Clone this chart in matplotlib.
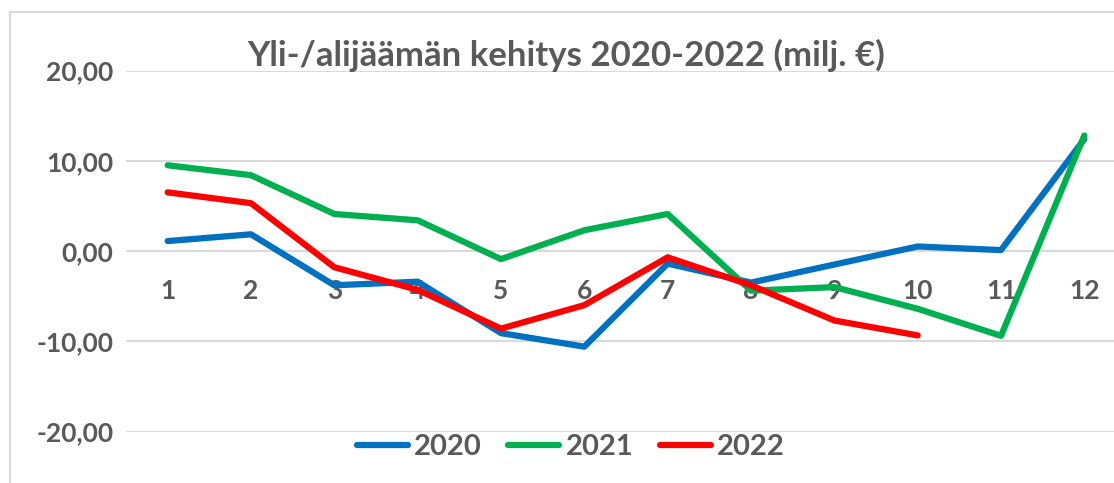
import matplotlib
matplotlib.use("Agg")
import matplotlib.pyplot as plt
from matplotlib.patches import Rectangle

# data (milj. €)
months = [1, 2, 3, 4, 5, 6, 7, 8, 9, 10, 11, 12]
y2020 = [1.1, 1.85, -3.8, -3.4, -9.1, -10.6, -1.4, -3.5, -1.5, 0.5, 0.1, 12.4]
y2021 = [9.5, 8.4, 4.1, 3.4, -0.9, 2.3, 4.1, -4.4, -4.0, -6.4, -9.4, 12.8]
y2022 = [6.5, 5.3, -1.8, -4.3, -8.6, -6.0, -0.7, -3.8, -7.7, -9.35]
yticks = [-20, -10, 0, 10, 20]
ytick_labels = ["-20,00", "-10,00", "0,00", "10,00", "20,00"]
title = "Yli-/alijäämän kehitys 2020-2022 (milj. €)"

plt.rcParams['font.family'] = ['Lato', 'DejaVu Sans']
txt = '#595959'
W, H = 1114, 483

fig = plt.figure(figsize=(W / 100, H / 100), dpi=100)
ax = fig.add_axes([126 / W, 1 - 431.5 / H, 1000 / W, 361 / H])

lw = 4.5
ax.plot(months, y2020, color='#0070C0', lw=lw, solid_capstyle='round', solid_joinstyle='round', label='2020')
ax.plot(months, y2021, color='#00B050', lw=lw, solid_capstyle='round', solid_joinstyle='round', label='2021')
ax.plot(months[:len(y2022)], y2022, color='#FF0000', lw=lw, solid_capstyle='round', solid_joinstyle='round', label='2022')

ax.set_xlim(0.5, 12.5)
ax.set_ylim(-20, 20)
ax.set_yticks(yticks)
ax.set_yticklabels(ytick_labels)
ax.set_xticks(months)
ax.set_xticklabels([str(m) for m in months])
ax.grid(axis='y', color='#D9D9D9', lw=1.5)
ax.set_axisbelow(True)

for s in ['top', 'right', 'left']:
    ax.spines[s].set_visible(False)
ax.spines['bottom'].set_position(('data', 0))
ax.spines['bottom'].set_visible(False)
ax.tick_params(axis='x', length=0, pad=20, labelsize=19, labelcolor=txt)
ax.tick_params(axis='y', length=0, pad=9, labelsize=19, labelcolor=txt)
for lab in ax.get_xticklabels() + ax.get_yticklabels():
    lab.set_fontweight('bold')

fig.text(566 / W, 1 - 55 / H, title, ha='center', va='center', fontsize=25,
         fontweight='bold', color=txt)

leg = fig.legend(loc='center', bbox_to_anchor=(571 / W, 1 - 447 / H), ncol=3, frameon=False,
                 handlelength=1.75, handletextpad=0.22, columnspacing=0.9,
                 prop={'size': 21, 'weight': 'bold'})
for t in leg.get_texts():
    t.set_color(txt)

fig.add_artist(Rectangle((10 / W, -0.2), 1.2, 1.2 - 12 / H + 0.001, transform=fig.transFigure,
                         fill=False, edgecolor='#D9D9D9', lw=1.5))

fig.savefig('out.png', dpi=100)
